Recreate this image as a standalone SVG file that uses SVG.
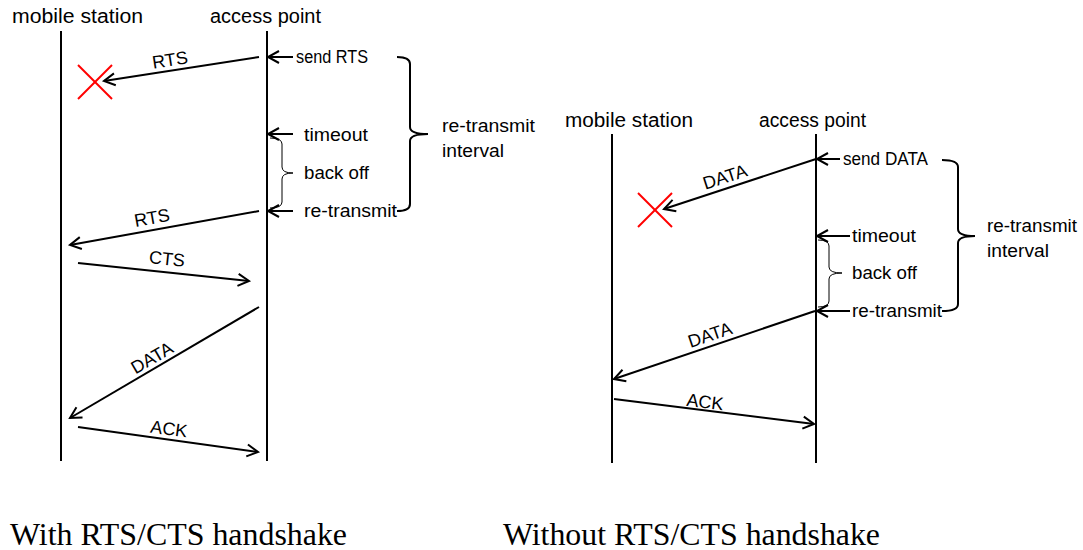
<svg xmlns="http://www.w3.org/2000/svg" width="1083" height="550" viewBox="0 0 1083 550">
<style>
.hdr{font-family:"Liberation Sans",Arial,sans-serif;font-size:20px;fill:#000}
.lbl{font-family:"Liberation Sans",Arial,sans-serif;font-size:17.5px;fill:#000}
.mlbl{font-family:"Liberation Sans",Arial,sans-serif;font-size:18px;fill:#000}
.cap{font-family:"Liberation Serif","Times New Roman",serif;font-size:31.5px;fill:#000}
.life{stroke:#000;stroke-width:2;fill:none}
.msg{stroke:#000;stroke-width:2;fill:none;marker-end:url(#ah)}
.brace{stroke:#000;stroke-width:2;fill:none}
.sbrace{stroke:#000;stroke-width:1;fill:none}
.x{stroke:#ff0000;stroke-width:2}
</style>
<defs>
<marker id="ah" markerUnits="userSpaceOnUse" markerWidth="16" markerHeight="16" viewBox="0 0 16 16" refX="13" refY="8" orient="auto">
<path d="M2,2 L13,8 L2,14" fill="none" stroke="#000" stroke-width="2"/>
</marker>
</defs>
<rect width="1083" height="550" fill="#fff"/>

<!-- Left diagram: with RTS/CTS -->
<g id="left-mobile-station">
<text class="hdr" x="12" y="23" textLength="131" lengthAdjust="spacingAndGlyphs">mobile station</text>
<line class="life" x1="61" y1="31" x2="61" y2="461"/>
</g>
<g id="left-access-point">
<text class="hdr" x="210" y="23" textLength="111" lengthAdjust="spacingAndGlyphs">access point</text>
<line class="life" x1="267" y1="31" x2="267" y2="461"/>
</g>
<g id="left-lost">
<line class="x" x1="78" y1="65" x2="112" y2="99"/>
<line class="x" x1="112" y1="65" x2="78" y2="99"/>
</g>
<g id="left-events">
<text class="lbl" x="296" y="63" textLength="72" lengthAdjust="spacingAndGlyphs">send RTS</text>
<text class="lbl" x="304" y="141" textLength="64" lengthAdjust="spacingAndGlyphs">timeout</text>
<text class="lbl" x="304" y="179" textLength="65" lengthAdjust="spacingAndGlyphs">back off</text>
<text class="lbl" x="304" y="217" textLength="93" lengthAdjust="spacingAndGlyphs">re-transmit</text>
<path class="sbrace" d="M270,138 Q282,138 282,144 V167 Q282,173 293,173 Q282,173 282,179 V202 Q282,208 270,208"/>
</g>
<g id="left-interval">
<path class="brace" d="M397,57 Q410,57 410,64 V127 Q410,134 428,134 Q410,134 410,141 V204 Q410,211 397,211"/>
<text class="lbl" x="442" y="132" textLength="93" lengthAdjust="spacingAndGlyphs">re-transmit</text>
<text class="lbl" x="442" y="157" textLength="62" lengthAdjust="spacingAndGlyphs">interval</text>
</g>

<!-- Right diagram: without RTS/CTS -->
<g id="right-mobile-station">
<text class="hdr" x="565" y="127" textLength="128" lengthAdjust="spacingAndGlyphs">mobile station</text>
<line class="life" x1="612" y1="134" x2="612" y2="463"/>
</g>
<g id="right-access-point">
<text class="hdr" x="759" y="127" textLength="107" lengthAdjust="spacingAndGlyphs">access point</text>
<line class="life" x1="816" y1="134" x2="816" y2="463"/>
</g>
<g id="right-lost">
<line class="x" x1="638" y1="193" x2="672" y2="227"/>
<line class="x" x1="672" y1="193" x2="638" y2="227"/>
</g>
<g id="right-events">
<text class="lbl" x="843" y="165" textLength="85" lengthAdjust="spacingAndGlyphs">send DATA</text>
<text class="lbl" x="852" y="242" textLength="64" lengthAdjust="spacingAndGlyphs">timeout</text>
<text class="lbl" x="852" y="279" textLength="65" lengthAdjust="spacingAndGlyphs">back off</text>
<text class="lbl" x="852" y="317" textLength="90" lengthAdjust="spacingAndGlyphs">re-transmit</text>
<path class="sbrace" d="M818,240 Q829,240 829,246 V267 Q829,273 842,273 Q829,273 829,279 V301 Q829,307 818,307"/>
</g>
<g id="right-interval">
<path class="brace" d="M942,160 Q958,160 958,167 V229 Q958,236 975,236 Q958,236 958,243 V304 Q958,311 942,311"/>
<text class="lbl" x="987" y="232" textLength="90" lengthAdjust="spacingAndGlyphs">re-transmit</text>
<text class="lbl" x="987" y="257" textLength="62" lengthAdjust="spacingAndGlyphs">interval</text>
</g>

<g id="connectors">
<!-- left -->
<line class="msg" x1="293" y1="57" x2="268" y2="57"/>
<line class="msg" x1="293" y1="134" x2="268" y2="134"/>
<line class="msg" x1="293" y1="211" x2="268" y2="211"/>
<line class="msg" x1="259" y1="57" x2="104" y2="81"/>
<line class="msg" x1="259" y1="211" x2="70" y2="245"/>
<line class="msg" x1="78" y1="263" x2="249" y2="281"/>
<line class="msg" x1="259" y1="307" x2="70" y2="418"/>
<line class="msg" x1="78" y1="427" x2="258" y2="452"/>
<!-- right -->
<line class="msg" x1="840" y1="159" x2="817" y2="159"/>
<line class="msg" x1="850" y1="236" x2="817" y2="236"/>
<line class="msg" x1="850" y1="311" x2="817" y2="311"/>
<line class="msg" x1="816" y1="159" x2="664" y2="209"/>
<line class="msg" x1="815" y1="311" x2="614" y2="379"/>
<line class="msg" x1="614" y1="399" x2="814" y2="424"/>
</g>

<g id="message-labels">
<text class="mlbl" text-anchor="middle" transform="translate(170,60) rotate(-8.8)" y="6">RTS</text>
<text class="mlbl" text-anchor="middle" transform="translate(152,218) rotate(-10.2)" y="6">RTS</text>
<text class="mlbl" text-anchor="middle" transform="translate(167,259) rotate(6)" y="6">CTS</text>
<text class="mlbl" text-anchor="middle" transform="translate(152,358) rotate(-30.2)" y="6">DATA</text>
<text class="mlbl" text-anchor="middle" transform="translate(169,429) rotate(7.9)" y="6">ACK</text>
<text class="mlbl" text-anchor="middle" transform="translate(725,177) rotate(-17.8)" y="6">DATA</text>
<text class="mlbl" text-anchor="middle" transform="translate(710,335) rotate(-18.7)" y="6">DATA</text>
<text class="mlbl" text-anchor="middle" transform="translate(705,402) rotate(7.1)" y="6">ACK</text>
</g>

<g id="captions">
<text class="cap" x="10" y="545" textLength="337" lengthAdjust="spacingAndGlyphs">With RTS/CTS handshake</text>
<text class="cap" x="503" y="545" textLength="377" lengthAdjust="spacingAndGlyphs">Without RTS/CTS handshake</text>
</g>
</svg>
